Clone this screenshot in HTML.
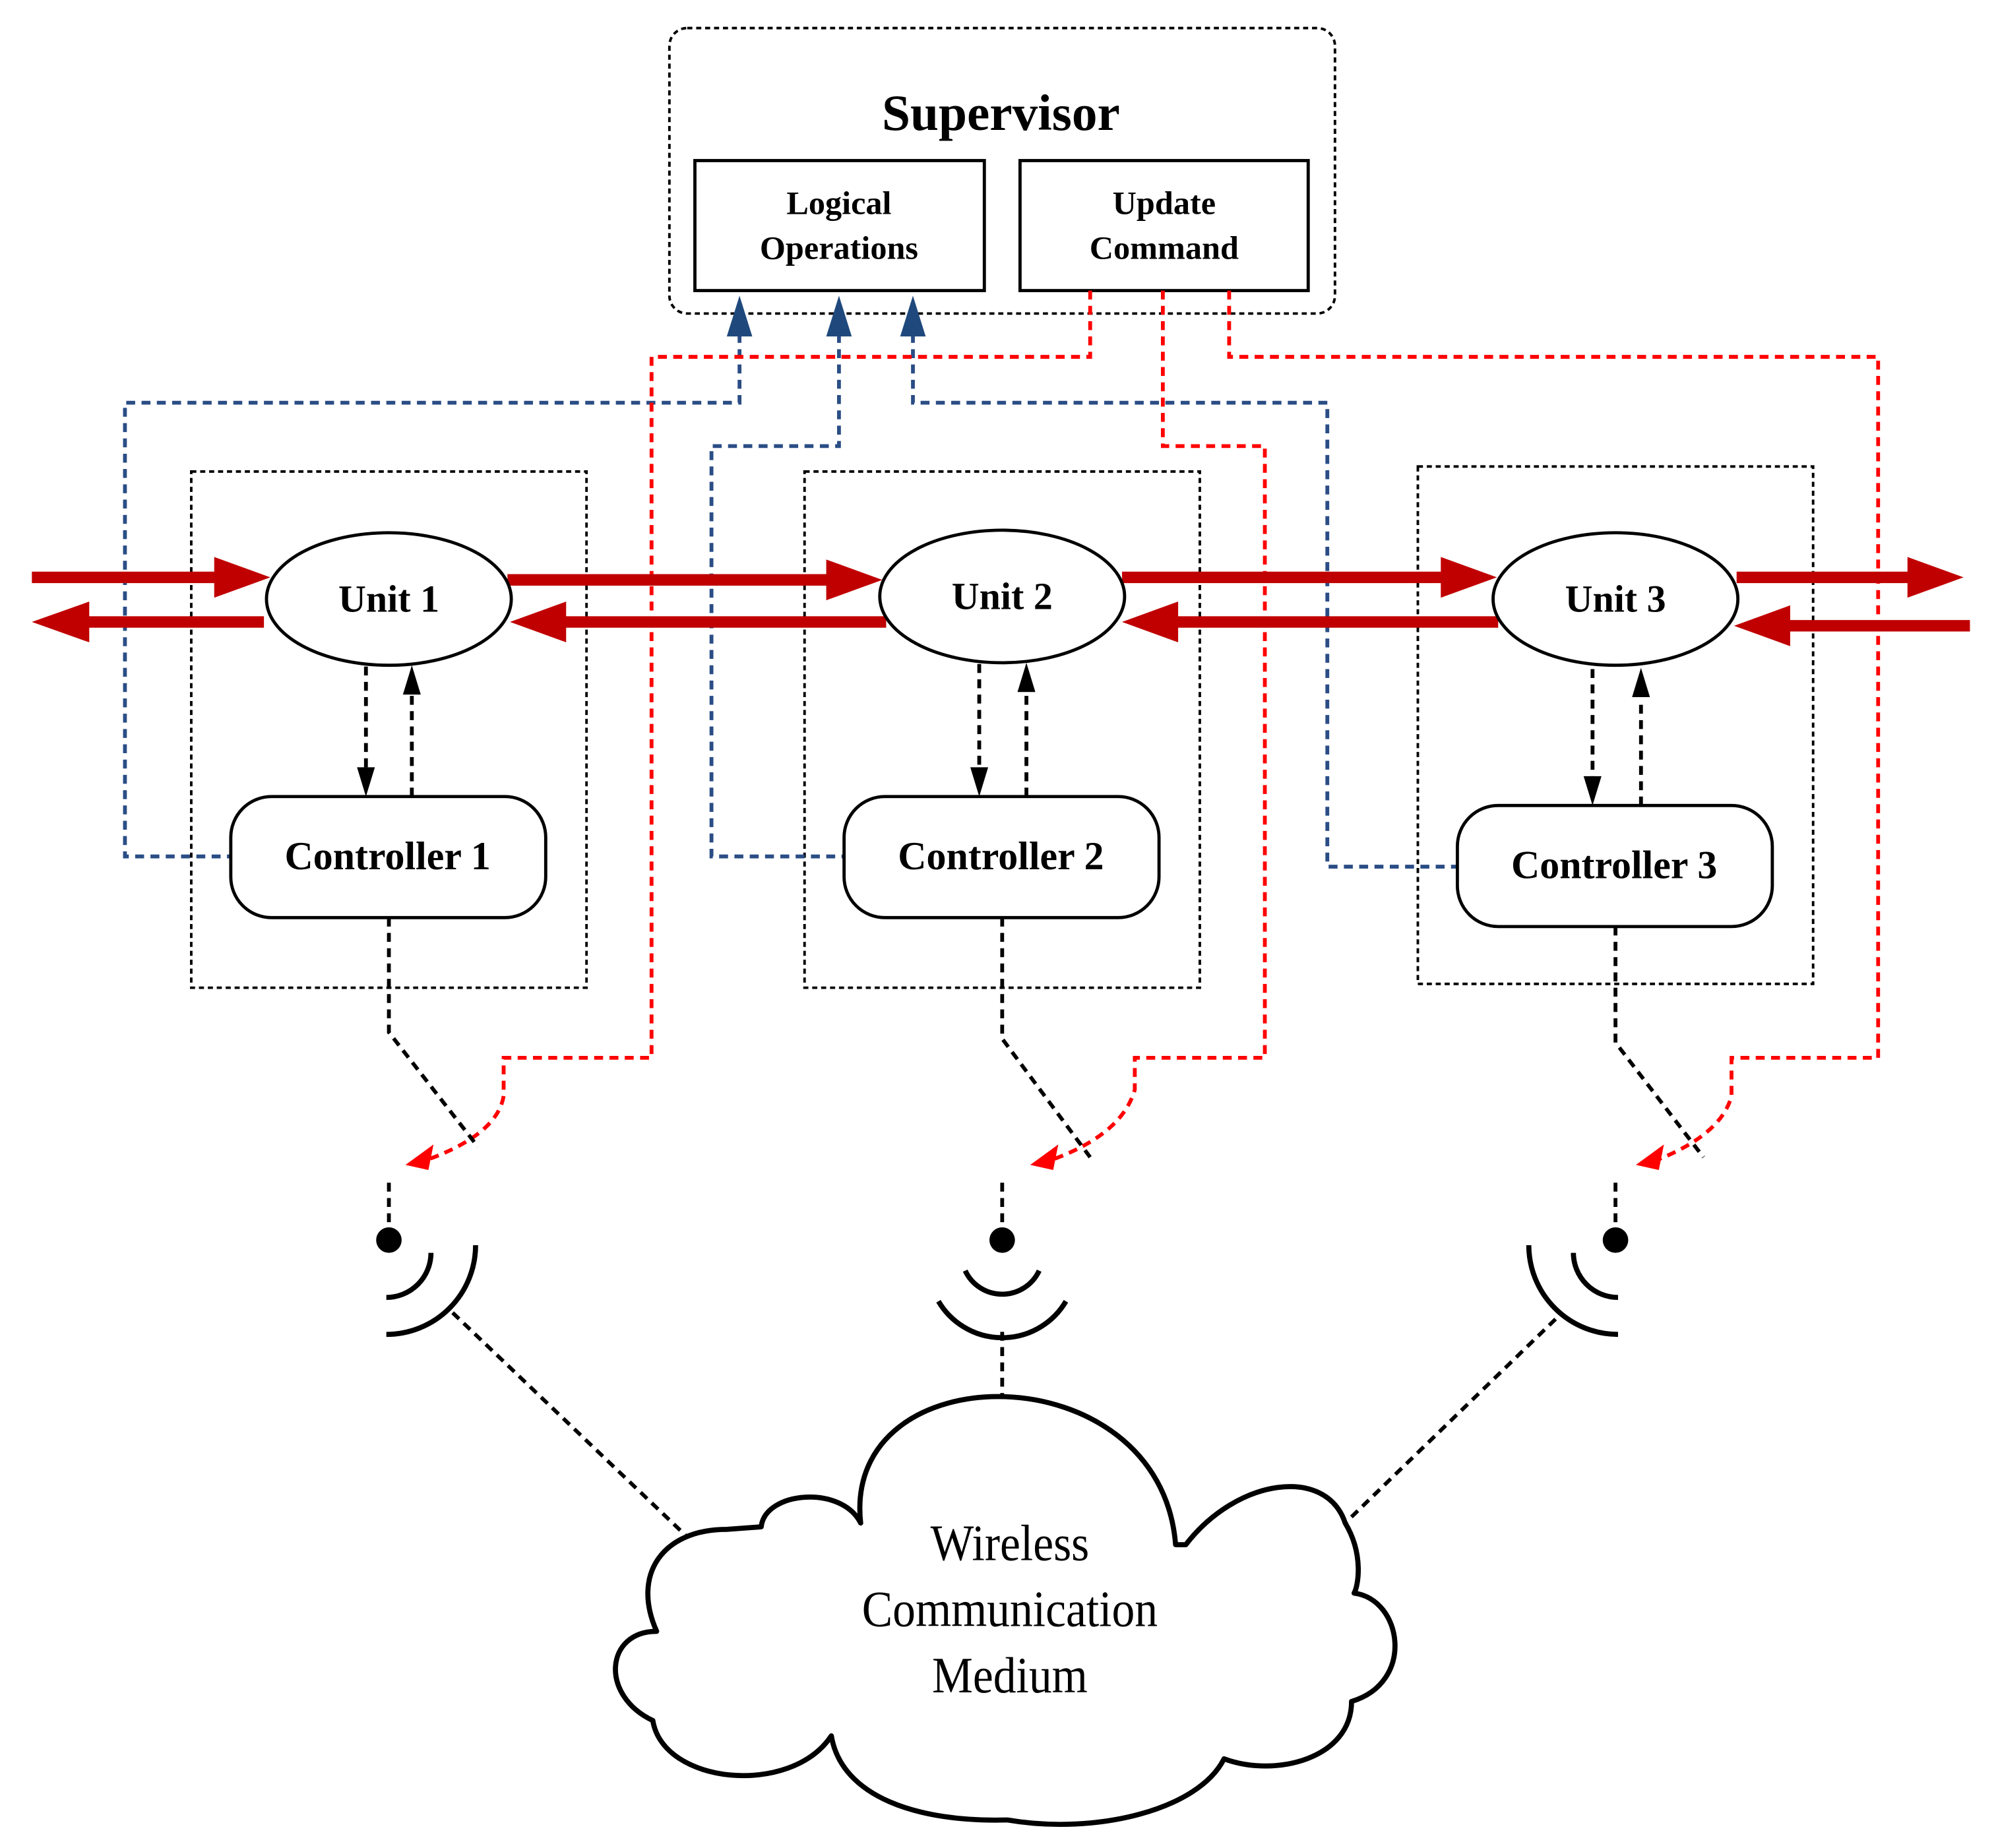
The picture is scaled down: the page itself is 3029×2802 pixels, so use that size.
<!DOCTYPE html>
<html><head><meta charset="utf-8"><style>
html,body{margin:0;padding:0;background:#fff;}
svg{display:block;}
text{font-family:"Liberation Serif",serif;}
</style></head><body>
<svg width="3029" height="2802" viewBox="0 0 1567 1450" preserveAspectRatio="none" xmlns="http://www.w3.org/2000/svg">
<rect width="1567" height="1450" fill="#fff"/>
<!-- Supervisor -->
<rect x="525" y="22" width="522" height="224" rx="14" fill="none" stroke="#000" stroke-width="2" stroke-dasharray="4,3"/>
<text x="785" y="102" text-anchor="middle" font-weight="bold" font-size="40">Supervisor</text>
<rect x="545" y="126" width="227" height="102" fill="#fff" stroke="#000" stroke-width="2.5"/>
<rect x="800" y="126" width="226" height="102" fill="#fff" stroke="#000" stroke-width="2.5"/>
<text x="658" y="168" text-anchor="middle" font-weight="bold" font-size="26">Logical</text>
<text x="658" y="203" text-anchor="middle" font-weight="bold" font-size="26">Operations</text>
<text x="913" y="168" text-anchor="middle" font-weight="bold" font-size="26">Update</text>
<text x="913" y="203" text-anchor="middle" font-weight="bold" font-size="26">Command</text>
<!-- unit boxes -->
<g fill="none" stroke="#000" stroke-width="2" stroke-dasharray="4,3">
<rect x="150" y="370" width="310" height="405"/>
<rect x="631" y="370" width="310" height="405"/>
<rect x="1112" y="366" width="310" height="406"/>
</g>
<!-- blue dashed -->
<g fill="none" stroke="#2a4d85" stroke-width="3" stroke-dasharray="7,5">
<path d="M580,262 V316 H98 V672 H180"/>
<path d="M658,262 V350 H558 V672 H662"/>
<path d="M716,262 V316 H1041 V680 H1143"/>
</g>
<g fill="#1f497d">
<path d="M570,264 L580,232 L590,264Z"/>
<path d="M648,264 L658,232 L668,264Z"/>
<path d="M706,264 L716,232 L726,264Z"/>
</g>
<!-- red dashed -->
<g fill="none" stroke="#f00" stroke-width="3" stroke-dasharray="7,5">
<path d="M855,228 V280 H511 V830 H395 V860 Q390,890 335,910"/>
<path d="M912,228 V350 H992 V830 H890 V855 Q880,890 825,910"/>
<path d="M964,228 V280 H1473 V830 H1358 V860 Q1350,890 1300,910"/>
</g>
<g fill="#f00">
<path d="M318,914 L340,898 L336,918Z"/>
<path d="M808,914 L830,898 L826,918Z"/>
<path d="M1283,914 L1305,898 L1301,918Z"/>
</g>
<!-- red thick arrows -->
<g stroke="#c00000" stroke-width="9" fill="none">
<path d="M25,453 H172"/><path d="M398,455 H652"/><path d="M880,453 H1135"/><path d="M1362,453 H1500"/>
<path d="M207,488 H65"/><path d="M695,488 H440"/><path d="M1175,488 H920"/><path d="M1545,491 H1400"/>
</g>
<g fill="#c00000">
<path d="M168,437 L212,453 L168,469Z"/>
<path d="M648,439 L692,455 L648,471Z"/>
<path d="M1130,437 L1174,453 L1130,469Z"/>
<path d="M1496,437 L1540,453 L1496,469Z"/>
<path d="M70,472 L25,488 L70,504Z"/>
<path d="M444,472 L400,488 L444,504Z"/>
<path d="M924,472 L880,488 L924,504Z"/>
<path d="M1404,475 L1360,491 L1404,507Z"/>
</g>
<!-- units -->
<g fill="#fff" stroke="#000" stroke-width="2.5">
<ellipse cx="305" cy="470" rx="96" ry="52"/>
<ellipse cx="786" cy="468" rx="96" ry="52"/>
<ellipse cx="1267" cy="470" rx="96" ry="52"/>
</g>
<g font-weight="bold" font-size="30" text-anchor="middle">
<text x="305" y="480">Unit 1</text>
<text x="786" y="478">Unit 2</text>
<text x="1267" y="480">Unit 3</text>
</g>
<!-- black arrows unit/controller -->
<g stroke="#000" stroke-width="3" stroke-dasharray="7,5" fill="none">
<path d="M287,523 V605"/><path d="M323,625 V545"/>
<path d="M768,521 V605"/><path d="M805,625 V545"/>
<path d="M1249,525 V612"/><path d="M1287,632 V550"/>
</g>
<g fill="#000">
<path d="M280,602 L287,625 L294,602Z"/><path d="M316,545 L323,522 L330,545Z"/>
<path d="M761,602 L768,625 L775,602Z"/><path d="M798,543 L805,520 L812,543Z"/>
<path d="M1242,609 L1249,632 L1256,609Z"/><path d="M1280,547 L1287,524 L1294,547Z"/>
</g>
<!-- controllers -->
<g fill="#fff" stroke="#000" stroke-width="2.5">
<rect x="181" y="625" width="247" height="95" rx="32"/>
<rect x="662" y="625" width="247" height="95" rx="32"/>
<rect x="1143" y="632" width="247" height="95" rx="32"/>
</g>
<g font-weight="bold" font-size="31" text-anchor="middle">
<text x="304" y="682">Controller 1</text>
<text x="785" y="682">Controller 2</text>
<text x="1266" y="689">Controller 3</text>
</g>
<!-- controller to antenna -->
<g stroke="#000" stroke-width="3" stroke-dasharray="7,5" fill="none">
<path d="M305,720 V810 L375,900"/>
<path d="M786,720 V815 L855,908"/>
<path d="M1267,727 V818 L1336,908"/>
<path d="M305,928 V962"/><path d="M786,928 V962"/><path d="M1267,928 V962"/>
<path d="M355,1030 L538,1205"/>
<path d="M786,1045 V1100"/>
<path d="M1220,1035 L1055,1195"/>
</g>
<!-- antennas -->
<g fill="#000"><circle cx="305" cy="973" r="10"/><circle cx="786" cy="973" r="10"/><circle cx="1267" cy="973" r="10"/></g>
<g fill="none" stroke="#000" stroke-width="4">
<path d="M303,1018 A35,35 0 0 0 338,983"/>
<path d="M303,1047 A70,70 0 0 0 373,977"/>
<path d="M757,997 A32,32 0 0 0 815,997"/>
<path d="M736,1021 A58,58 0 0 0 836,1021"/>
<path d="M1269,1018 A35,35 0 0 1 1234,983"/>
<path d="M1269,1047 A70,70 0 0 1 1199,977"/>
</g>
<!-- cloud -->
<path d="M675,1195 C660,1060 910,1060 922,1212 L930,1212 C970,1160 1040,1150 1055,1195 C1070,1220 1065,1245 1062,1250 C1100,1255 1110,1320 1060,1335 C1060,1380 1000,1395 960,1380 C940,1420 860,1440 790,1428 C720,1430 660,1410 652,1362 C620,1410 520,1400 512,1350 C470,1330 475,1280 515,1280 C495,1235 520,1200 570,1200 L597,1198 C600,1170 660,1165 675,1195 Z" fill="#fff" stroke="#000" stroke-width="4" stroke-linejoin="round"/>
<g font-size="40" text-anchor="middle">
<text x="792" y="1224" transform="translate(792 0) scale(0.9 1) translate(-792 0)">Wireless</text>
<text x="792" y="1276" transform="translate(792 0) scale(0.9 1) translate(-792 0)">Communication</text>
<text x="792" y="1328" transform="translate(792 0) scale(0.9 1) translate(-792 0)">Medium</text>
</g>
</svg>
</body></html>
